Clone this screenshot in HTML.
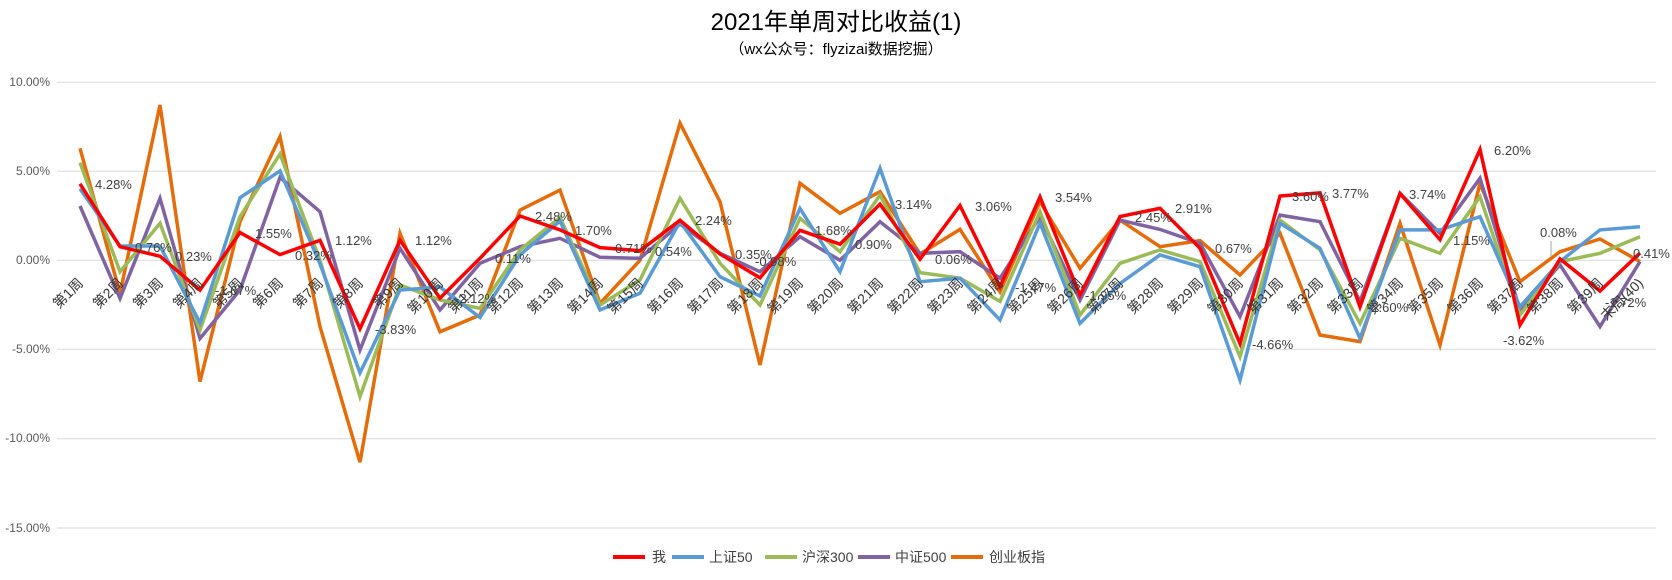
<!DOCTYPE html>
<html><head><meta charset="utf-8"><style>
html,body{margin:0;padding:0;background:#fff;}
svg{display:block;font-family:"Liberation Sans","Noto Sans CJK SC",sans-serif;}
.yl{font-size:12px;fill:#595959;text-anchor:end;}
.xl{font-size:14px;fill:#333;text-anchor:end;}
.dl{font-size:13px;fill:#404040;}
.lg{font-size:14px;fill:#404040;}
</style></head><body>
<svg id="c" width="1672" height="580" viewBox="0 0 1672 580" xmlns="http://www.w3.org/2000/svg">
<text x="836" y="30" text-anchor="middle" font-size="24" fill="#000">2021年单周对比收益(1)</text>
<text x="836" y="54" text-anchor="middle" font-size="15" fill="#000">（wx公众号：flyzizai数据挖掘）</text>
<g stroke="#d9d9d9" stroke-width="1">
<line x1="57" x2="1656" y1="82.3" y2="82.3"/>
<line x1="57" x2="1656" y1="171.3" y2="171.3"/>
<line x1="57" x2="1656" y1="260.3" y2="260.3"/>
<line x1="57" x2="1656" y1="349.3" y2="349.3"/>
<line x1="57" x2="1656" y1="438.7" y2="438.7"/>
<line x1="57" x2="1656" y1="528" y2="528"/>
</g>
<text class="yl" x="50" y="86">10.00%</text>
<text class="yl" x="50" y="175">5.00%</text>
<text class="yl" x="50" y="264">0.00%</text>
<text class="yl" x="50" y="353">-5.00%</text>
<text class="yl" x="50" y="442">-10.00%</text>
<text class="yl" x="50" y="532">-15.00%</text>
<g id="lines" fill="none" stroke-width="3.5" stroke-linejoin="miter"></g>
<g class="xl">
<text transform="translate(84,284) rotate(-45)">第1周</text>
<text transform="translate(124,284) rotate(-45)">第2周</text>
<text transform="translate(164,284) rotate(-45)">第3周</text>
<text transform="translate(204,284) rotate(-45)">第4周</text>
<text transform="translate(244,284) rotate(-45)">第5周</text>
<text transform="translate(284,284) rotate(-45)">第6周</text>
<text transform="translate(324,284) rotate(-45)">第7周</text>
<text transform="translate(364,284) rotate(-45)">第8周</text>
<text transform="translate(404,284) rotate(-45)">第9周</text>
<text transform="translate(444,284) rotate(-45)">第10周</text>
<text transform="translate(484,284) rotate(-45)">第11周</text>
<text transform="translate(524,284) rotate(-45)">第12周</text>
<text transform="translate(564,284) rotate(-45)">第13周</text>
<text transform="translate(604,284) rotate(-45)">第14周</text>
<text transform="translate(644,284) rotate(-45)">第15周</text>
<text transform="translate(684,284) rotate(-45)">第16周</text>
<text transform="translate(724,284) rotate(-45)">第17周</text>
<text transform="translate(764,284) rotate(-45)">第18周</text>
<text transform="translate(804,284) rotate(-45)">第19周</text>
<text transform="translate(844,284) rotate(-45)">第20周</text>
<text transform="translate(884,284) rotate(-45)">第21周</text>
<text transform="translate(924,284) rotate(-45)">第22周</text>
<text transform="translate(964,284) rotate(-45)">第23周</text>
<text transform="translate(1004,284) rotate(-45)">第24周</text>
<text transform="translate(1044,284) rotate(-45)">第25周</text>
<text transform="translate(1084,284) rotate(-45)">第26周</text>
<text transform="translate(1124,284) rotate(-45)">第27周</text>
<text transform="translate(1164,284) rotate(-45)">第28周</text>
<text transform="translate(1204,284) rotate(-45)">第29周</text>
<text transform="translate(1244,284) rotate(-45)">第30周</text>
<text transform="translate(1284,284) rotate(-45)">第31周</text>
<text transform="translate(1324,284) rotate(-45)">第32周</text>
<text transform="translate(1364,284) rotate(-45)">第33周</text>
<text transform="translate(1404,284) rotate(-45)">第34周</text>
<text transform="translate(1444,284) rotate(-45)">第35周</text>
<text transform="translate(1484,284) rotate(-45)">第36周</text>
<text transform="translate(1524,284) rotate(-45)">第37周</text>
<text transform="translate(1564,284) rotate(-45)">第38周</text>
<text transform="translate(1604,284) rotate(-45)">第39周</text>
<text transform="translate(1644,284) rotate(-45)">末周(40)</text>
</g>
<g class="dl">
<text x="95" y="189">4.28%</text>
<text x="135" y="252">0.76%</text>
<text x="175" y="261">0.23%</text>
<text x="215" y="295">-1.67%</text>
<text x="255" y="238">1.55%</text>
<text x="295" y="260">0.32%</text>
<text x="335" y="245">1.12%</text>
<text x="375" y="334">-3.83%</text>
<text x="415" y="245">1.12%</text>
<text x="455" y="303">-2.12%</text>
<text x="495" y="263">0.11%</text>
<text x="535" y="221">2.48%</text>
<text x="575" y="235">1.70%</text>
<text x="615" y="253">0.71%</text>
<text x="655" y="256">0.54%</text>
<text x="695" y="225">2.24%</text>
<text x="735" y="259">0.35%</text>
<text x="755" y="266">-0.98%</text>
<text x="815" y="235">1.68%</text>
<text x="855" y="249">0.90%</text>
<text x="895" y="209">3.14%</text>
<text x="935" y="264">0.06%</text>
<text x="975" y="211">3.06%</text>
<text x="1015" y="292">-1.47%</text>
<text x="1055" y="202">3.54%</text>
<text x="1085" y="300">-1.95%</text>
<text x="1135" y="222">2.45%</text>
<text x="1175" y="213">2.91%</text>
<text x="1215" y="253">0.67%</text>
<text x="1252" y="349">-4.66%</text>
<text x="1292" y="201">3.60%</text>
<text x="1332" y="198">3.77%</text>
<text x="1367" y="312">-2.60%</text>
<text x="1409" y="199">3.74%</text>
<text x="1453" y="245">1.15%</text>
<text x="1494" y="155">6.20%</text>
<text x="1503" y="345">-3.62%</text>
<text x="1540" y="237">0.08%</text>
<text x="1605" y="307">-1.72%</text>
<text x="1633" y="258">0.41%</text>
</g>
<line x1="1551" y1="241" x2="1551" y2="256" stroke="#a6a6a6" stroke-width="1"/>
<g stroke-width="4">
<line x1="613" x2="645" y1="557" y2="557" stroke="#ff0000"/>
<line x1="672" x2="704" y1="557" y2="557" stroke="#5b9bd5"/>
<line x1="765" x2="797" y1="557" y2="557" stroke="#9bbb59"/>
<line x1="858" x2="890" y1="557" y2="557" stroke="#8064a2"/>
<line x1="951" x2="983" y1="557" y2="557" stroke="#e46c0a"/>
</g>
<text class="lg" x="652" y="562">我</text>
<text class="lg" x="709" y="562">上证50</text>
<text class="lg" x="802" y="562">沪深300</text>
<text class="lg" x="895" y="562">中证500</text>
<text class="lg" x="989" y="562">创业板指</text>
</svg>
<script>
var S=[
["#e46c0a",[6.27,-1.85,8.69,-6.79,2.16,6.92,-3.71,-11.3,1.51,-4.0,-3.06,2.81,3.93,-2.41,0,7.67,3.28,-5.86,4.31,2.63,3.84,0.35,1.73,-1.76,3.28,-0.45,2.25,0.76,1.1,-0.82,1.51,-4.18,-4.55,2.07,-4.74,4.31,-1.2,0.48,1.19,-0.07]],
["#8064a2",[3.04,-2.13,3.47,-4.37,-1.66,4.64,2.72,-5.02,0.67,-2.78,-0.17,0.76,1.23,0.17,0.11,2.03,0.39,-0.64,1.32,0,2.16,0.39,0.48,-1.0,2.44,-2.22,2.25,1.73,0.95,-3.15,2.53,2.16,-2.3,3.75,1.51,4.59,-2.78,-0.26,-3.71,-0.07]],
["#9bbb59",[5.46,-0.64,2.07,-3.9,2.44,5.95,0,-7.63,-1.38,-2.22,-2.69,0.58,2.4,-2.5,-1.1,3.47,-0.17,-2.5,2.35,0.48,3.65,-0.69,-1.0,-2.3,2.72,-3.06,-0.17,0.58,-0.07,-5.39,2.25,0.58,-3.53,1.23,0.39,3.56,-3.06,-0.07,0.39,1.32]],
["#5b9bd5",[4.0,0.8,0.8,-3.5,3.5,5.0,-0.2,-6.3,-1.66,-1.5,-3.2,0.3,2.2,-2.78,-1.84,2.16,-0.92,-2.0,2.9,-0.64,5.15,-1.2,-1.0,-3.34,2.08,-3.53,-1.3,0.3,-0.36,-6.7,2.07,0.67,-4.37,1.7,1.7,2.44,-2.6,-0.07,1.7,1.88]],
["#ff0000",[4.28,0.76,0.23,-1.67,1.55,0.32,1.12,-3.83,1.12,-2.12,0.11,2.48,1.70,0.71,0.54,2.24,0.35,-0.98,1.68,0.90,3.14,0.06,3.06,-1.47,3.54,-1.95,2.45,2.91,0.67,-4.66,3.60,3.77,-2.60,3.74,1.15,6.20,-3.62,0.08,-1.72,0.41]]
];
var g=document.getElementById("lines");
S.forEach(function(s){
 var p=s[1].map(function(v,i){return (80+40*i)+","+(260.3-v*17.87).toFixed(1);}).join(" ");
 var e=document.createElementNS("http://www.w3.org/2000/svg","polyline");
 e.setAttribute("points",p);e.setAttribute("stroke",s[0]);
 g.appendChild(e);
});
</script>
</body></html>
